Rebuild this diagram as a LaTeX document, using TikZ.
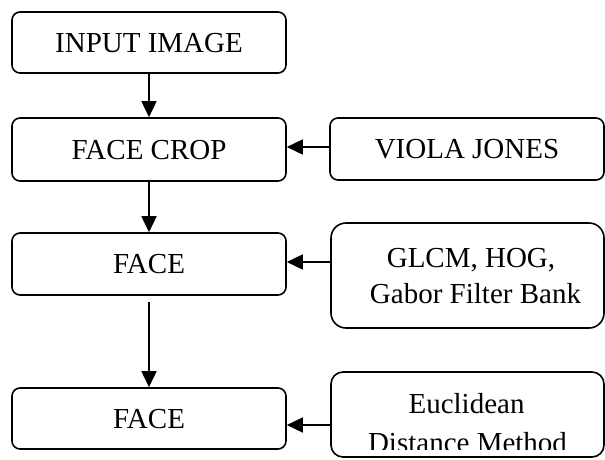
\documentclass[tikz,border=0pt]{standalone}
\usepackage{fontspec}
\setmainfont{Liberation Serif}
\usetikzlibrary{arrows.meta}
\begin{document}
\begin{tikzpicture}[x=1pt,y=-1pt,
  box/.style={draw, line width=1.6pt, rounded corners=8pt, inner sep=0pt,
    font=\fontsize{29}{37}\selectfont, text height=19.2pt, text depth=0pt},
  lbl/.style={inner sep=0pt, font=\fontsize{29}{37}\selectfont, anchor=base},
  arr/.style={line width=1.6pt, -{Triangle[length=16pt,width=15pt]}}]
\useasboundingbox (0,0) rectangle (605,459);
% left column
\node[box, minimum width=274pt, minimum height=61pt] (inp) at (149,42.5) {INPUT IMAGE};
\node[box, minimum width=274pt, minimum height=63pt] (crop) at (149,149.5) {FACE CROP};
\node[box, minimum width=274pt, minimum height=62pt] (face1) at (149,264) {FACE};
\node[box, minimum width=274pt, minimum height=61pt] (face2) at (149,418.5) {FACE};
% right column
\node[box, minimum width=274pt, minimum height=62pt] (vj) at (467,149) {VIOLA JONES};
\node[box, rounded corners=15pt, minimum width=273pt, minimum height=105pt] (glcm) at (467.5,275.5) {};
\node[lbl] (g1) at (471,267) {GLCM, HOG,};
\node[lbl] (g2) at (475.5,303) {Gabor Filter Bank};
\node[box, rounded corners=12pt, minimum width=273pt, minimum height=85pt] (euc) at (467.5,414.5) {};
\begin{scope}
  \clip (331,372) rectangle (604,449);
  \node[lbl] (e1) at (466.5,413) {Euclidean};
  \node[lbl] (e2) at (467.5,452) {Distance Method};
\end{scope}
% connectors
\draw[arr] (inp.south) -- (crop.north);
\draw[arr] (crop.south) -- (face1.north);
\coordinate (f1out) at (149,302);
\draw[arr] (f1out) -- (face2.north);
\coordinate (vjy) at (0,147);
\draw[arr] (vj.west |- vjy) -- (crop.east |- vjy);
\coordinate (gy) at (0,262);
\draw[arr] (glcm.west |- gy) -- (face1.east |- gy);
\coordinate (ey) at (0,425);
\draw[arr] (euc.west |- ey) -- (face2.east |- ey);
\end{tikzpicture}
\end{document}
